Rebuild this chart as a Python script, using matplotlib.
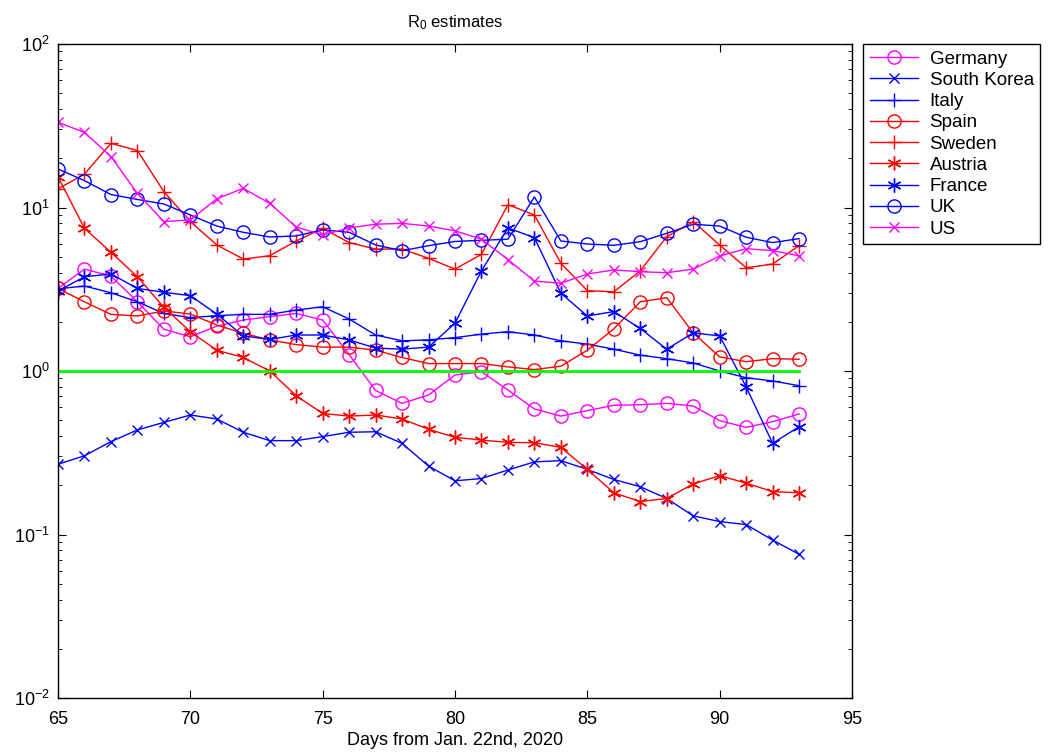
import matplotlib
matplotlib.use("Agg")
import matplotlib.pyplot as plt
import numpy as np

plt.rcParams['font.family'] = ['Liberation Sans', 'DejaVu Sans']
plt.rcParams['mathtext.fontset'] = 'custom'
plt.rcParams['mathtext.rm'] = 'Liberation Sans'
plt.rcParams['mathtext.it'] = 'Liberation Sans'

days = list(range(65, 94))

germany = [3.2, 4.2, 3.81, 2.65, 1.8, 1.62, 1.88, 2.05, 2.15, 2.25, 2.05, 1.26, 0.76, 0.634, 0.713,
           0.946, 0.99, 0.765, 0.586, 0.53, 0.572, 0.617, 0.622, 0.634, 0.611, 0.497, 0.452, 0.49, 0.546]
south_korea = [0.269, 0.303, 0.37, 0.436, 0.485, 0.538, 0.509, 0.422, 0.375, 0.375, 0.397, 0.422, 0.425,
               0.361, 0.262, 0.213, 0.22, 0.248, 0.278, 0.283, 0.25, 0.217, 0.196, 0.166, 0.13, 0.12,
               0.115, 0.0925, 0.0757]
italy = [3.18, 3.31, 3.01, 2.65, 2.25, 2.12, 2.18, 2.22, 2.22, 2.36, 2.47, 2.08, 1.66, 1.53, 1.55,
         1.6, 1.68, 1.74, 1.66, 1.53, 1.46, 1.36, 1.25, 1.19, 1.12, 1.0, 0.91, 0.869, 0.813]
spain = [3.2, 2.65, 2.22, 2.17, 2.33, 2.23, 1.91, 1.7, 1.55, 1.45, 1.4, 1.4, 1.34, 1.21, 1.11,
         1.11, 1.11, 1.06, 1.02, 1.07, 1.34, 1.81, 2.65, 2.81, 1.71, 1.22, 1.14, 1.19, 1.18]
sweden = [13.0, 16.0, 24.7, 22.3, 12.5, 8.2, 5.9, 4.84, 5.07, 6.24, 7.46, 6.1, 5.57, 5.57, 4.89,
          4.2, 5.17, 10.4, 9.0, 4.56, 3.1, 3.05, 4.1, 6.63, 8.2, 5.9, 4.28, 4.51, 5.84]
austria = [15.4, 7.46, 5.32, 3.77, 2.45, 1.74, 1.34, 1.21, 1.0, 0.706, 0.55, 0.53, 0.538, 0.509, 0.44,
           0.393, 0.378, 0.366, 0.364, 0.341, 0.25, 0.18, 0.159, 0.166, 0.204, 0.229, 0.206, 0.183, 0.18]
france = [3.09, 3.77, 3.92, 3.2, 3.03, 2.89, 2.23, 1.64, 1.56, 1.66, 1.66, 1.55, 1.38, 1.36, 1.4,
          1.96, 4.1, 7.5, 6.54, 2.99, 2.17, 2.31, 1.82, 1.36, 1.71, 1.64, 0.80, 0.361, 0.456]
uk = [17.2, 14.6, 12.0, 11.2, 10.5, 9.0, 7.7, 7.05, 6.6, 6.7, 7.3, 7.05, 5.9, 5.44, 5.84,
      6.2, 6.3, 6.4, 11.6, 6.24, 5.98, 5.87, 6.18, 6.95, 7.9, 7.7, 6.58, 6.1, 6.45]
us = [33.2, 28.8, 20.5, 12.2, 8.2, 8.4, 11.3, 13.1, 10.6, 7.6, 6.8, 7.5, 7.9, 8.0, 7.7,
      7.2, 6.4, 4.8, 3.55, 3.44, 3.92, 4.15, 4.05, 3.99, 4.2, 5.05, 5.6, 5.44, 5.07]

names = ['Germany', 'South Korea', 'Italy', 'Spain', 'Sweden', 'Austria', 'France', 'UK', 'US']
series = [germany, south_korea, italy, spain, sweden, austria, france, uk, us]

M, B, R = (1, 0, 1), (0, 0, 1), (1, 0, 0)
asterisk = (6, 2, 0)
styles = [
    (M, 'o', 9.5),
    (B, 'x', 7.5),
    (B, '+', 10),
    (R, 'o', 9.5),
    (R, '+', 10),
    (R, asterisk, 10),
    (B, asterisk, 10),
    (B, 'o', 9.5),
    (M, 'x', 7.5),
]

fig = plt.figure(figsize=(10.54, 7.52), dpi=100)
ax = fig.add_axes([58/1054, 1-698/752, (852-58)/1054, (698-44)/752])

lines = []
for name, vals, (c, m, ms) in zip(names, series, styles):
    ln, = ax.plot(days, vals, color=c, marker=m, markersize=ms, markerfacecolor='none',
                  markeredgecolor=c, markeredgewidth=1.0, linewidth=1.0, label=name)
    lines.append(ln)

ax.plot([days[0], days[-1]], [1, 1], color=(0, 1, 0), linewidth=2)

ax.set_yscale('log')
ax.set_xlim(65, 95)
ax.set_ylim(1e-2, 1e2)
ax.set_xticks([65, 70, 75, 80, 85, 90, 95])
ax.set_yticks([1e-2, 1e-1, 1e0, 1e1, 1e2])
ax.tick_params(which='both', direction='in', top=True, right=True, labelsize=13)
ax.tick_params(which='major', length=6)
ax.tick_params(which='minor', length=3)
ax.tick_params(axis='x', pad=9)
ax.tick_params(axis='y', pad=6)
for s in ax.spines.values():
    s.set_linewidth(1.0)

ax.set_title(r'R$_0$ estimates', fontsize=12, pad=12)
ax.set_xlabel('Days from Jan. 22nd, 2020', fontsize=13, labelpad=3)

leg = fig.legend(handles=lines, loc='upper left', bbox_to_anchor=(863/1054, 1-44/752),
                 fontsize=13.5, frameon=True, fancybox=False, edgecolor='black', framealpha=1,
                 handlelength=2.6, borderpad=0.35, labelspacing=0.22, handletextpad=0.6,
                 borderaxespad=0)
leg.get_frame().set_linewidth(1.0)

fig.savefig('out.png', dpi=100)
